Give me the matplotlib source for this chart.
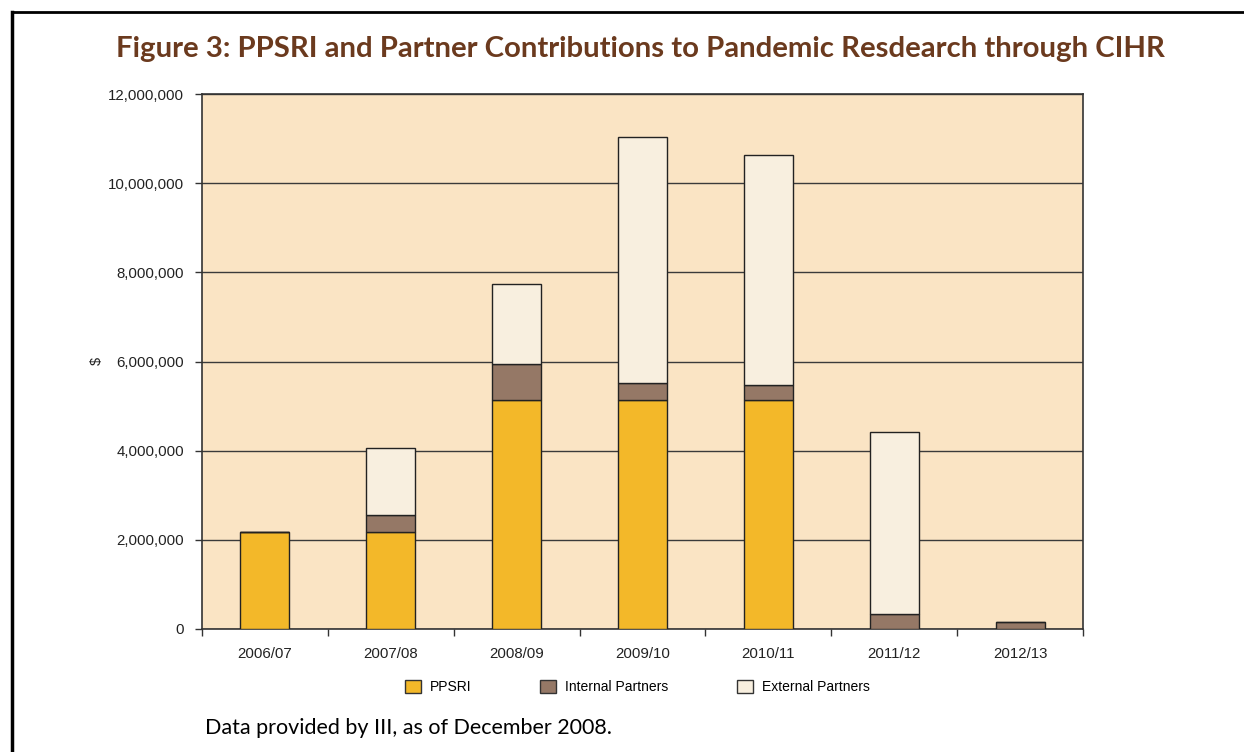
import matplotlib
matplotlib.use("Agg")
from matplotlib import pyplot as plt
from matplotlib.lines import Line2D
from matplotlib.patches import Patch
from matplotlib.ticker import FuncFormatter, FixedLocator
import numpy as np

# fiscal years and contributions ($)
YEARS = ["2006/07", "2007/08", "2008/09", "2009/10", "2010/11", "2011/12", "2012/13"]
PPSRI = [2180000, 2180000, 5140000, 5140000, 5140000, 0, 0]
INTERNAL = [0, 380000, 810000, 380000, 330000, 336000, 157000]
EXTERNAL = [0, 1500000, 1790000, 5520000, 5160000, 4080000, 0]

COL_PPSRI = "#F3B829"
COL_INT = "#957866"
COL_EXT = "#F8EFDF"
BG = "#FAE4C4"
TITLE_COL = "#6B3A1E"

W, H = 1244, 752
fig = plt.figure(figsize=(W / 100, H / 100), dpi=100)

# outer frame (top and left rule)
fig.add_artist(Line2D([12 / W, 1.0], [1 - 12 / H, 1 - 12 / H], color="black", lw=2))
fig.add_artist(Line2D([12 / W, 12 / W], [0, 1 - 12 / H], color="black", lw=2.5))

fig.text(640 / W, 1 - 49 / H,
         "Figure 3: PPSRI and Partner Contributions to Pandemic Resdearch through CIHR",
         ha="center", va="center", fontsize=21.2, fontweight="bold",
         family="Lato", color=TITLE_COL)

ax = fig.add_axes([202 / W, (H - 629) / H, 881 / W, 535 / H])
ax.set_facecolor(BG)

x = np.arange(len(YEARS))
w = 0.39
ppsri = np.array(PPSRI)
internal = np.array(INTERNAL)
external = np.array(EXTERNAL)

kw = dict(width=w, edgecolor="#222222", linewidth=1.0, zorder=3)
ax.bar(x, ppsri, color=COL_PPSRI, **kw)
ax.bar(x, internal, bottom=ppsri, color=COL_INT, **kw)
ax.bar(x, external, bottom=ppsri + internal, color=COL_EXT, **kw)

ax.set_xlim(-0.5, len(YEARS) - 0.5)
ax.set_ylim(0, 12000000)
ax.set_yticks(np.arange(0, 12000001, 2000000))
ax.yaxis.set_major_formatter(FuncFormatter(lambda v, p: f"{int(v):,}"))
ax.yaxis.grid(True, color="#3a3a3a", linewidth=1.0, zorder=1)
ax.set_axisbelow(True)

ax.set_xticks(x)
ax.set_xticklabels(YEARS)
ax.xaxis.set_minor_locator(FixedLocator(np.arange(-0.5, len(YEARS), 1)))
ax.tick_params(axis="x", which="major", length=0, pad=13)
ax.tick_params(axis="x", which="minor", length=5, width=1, color="#333333")
ax.tick_params(axis="y", length=5, width=1, color="#333333", pad=8)
for lab in ax.get_xticklabels() + ax.get_yticklabels():
    lab.set_family("Liberation Sans")
    lab.set_fontsize(10.8)
    lab.set_color("#222222")

for s in ax.spines.values():
    s.set_color("#333333")
    s.set_linewidth(1.2)

fig.text(97 / W, 1 - 361 / H, r"\$", rotation=90, ha="center", va="center",
         family="Liberation Sans", fontsize=10.5, color="#222222")

handles = [Patch(facecolor=COL_PPSRI, edgecolor="#333333", label="PPSRI"),
           Patch(facecolor=COL_INT, edgecolor="#333333", label="Internal Partners"),
           Patch(facecolor=COL_EXT, edgecolor="#333333", label="External Partners")]
leg = fig.legend(handles=handles, ncol=3, loc="center left",
                 bbox_to_anchor=(405 / W, 1 - 687 / H), frameon=False,
                 prop={"family": "Liberation Sans", "size": 10},
                 handlelength=1.15, handleheight=1.15, handletextpad=0.65,
                 columnspacing=4.95, borderpad=0, borderaxespad=0)

fig.text(205 / W, 1 - 728 / H, "Data provided by III, as of December 2008.",
         ha="left", va="center", family="Lato", fontsize=15.5, color="black")

fig.savefig("out.png", dpi=100, facecolor="white")
